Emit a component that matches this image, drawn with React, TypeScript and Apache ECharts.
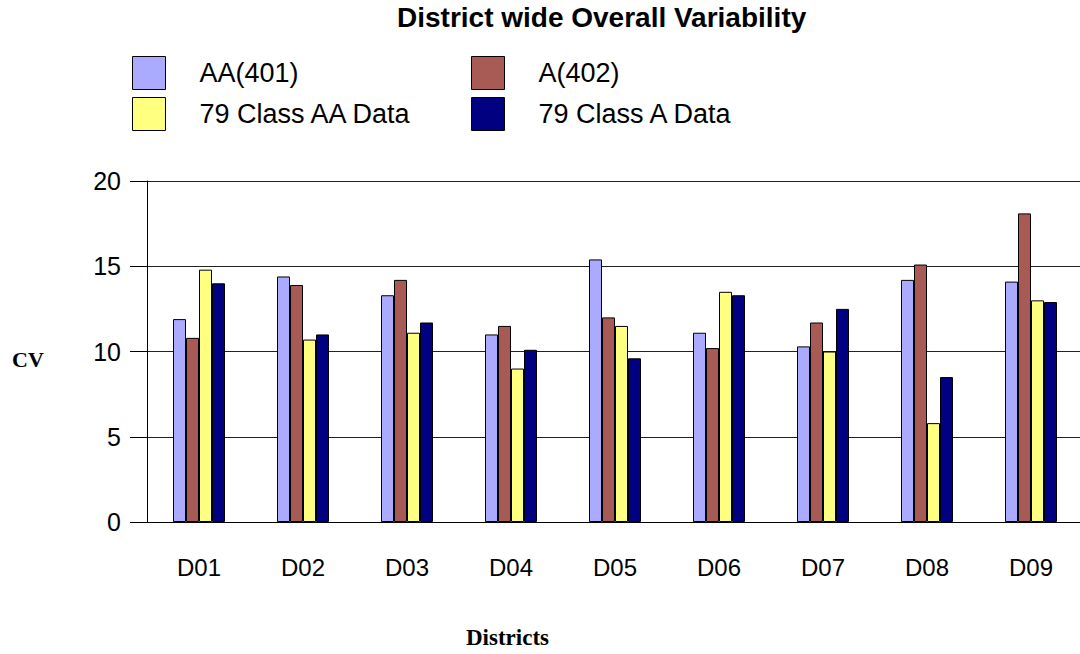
import React, { useEffect, useRef } from "react";
import * as echarts from "echarts";

const categories = ["D01", "D02", "D03", "D04", "D05", "D06", "D07", "D08", "D09"];
const aa401 = [11.9, 14.4, 13.3, 11.0, 15.4, 11.1, 10.3, 14.2, 14.1];
const a402 = [10.8, 13.9, 14.2, 11.5, 12.0, 10.2, 11.7, 15.1, 18.1];
const class79AA = [14.8, 10.7, 11.1, 9.0, 11.5, 13.5, 10.0, 5.8, 13.0];
const class79A = [14.0, 11.0, 11.7, 10.1, 9.6, 13.3, 12.5, 8.5, 12.9];
const seriesNames = ["AA(401)", "A(402)", "79 Class AA Data", "79 Class A Data"];
const seriesColors = ["#AAAAFF", "#A85A55", "#FFFF80", "#000080"];
const yMin = 0;
const yMax = 20;
const yStep = 5;

export default function App() {
  const ref = useRef<HTMLDivElement>(null);
  useEffect(() => {
    if (!ref.current) return;
    const chart = echarts.init(ref.current, null, { renderer: "svg" });
    const values = [aa401, a402, class79AA, class79A];
    const legendPos = [
      { left: 132, top: 56 },
      { left: 471, top: 56 },
      { left: 132, top: 97 },
      { left: 471, top: 97 },
    ];
    chart.setOption({
      animation: false,
      backgroundColor: "#fff",
      title: {
        text: "District wide Overall Variability",
        left: 397,
        top: 3,
        padding: 0,
        textStyle: { fontFamily: "Liberation Sans, Arial", fontWeight: "bold", fontSize: 28, color: "#000" },
      },
      legend: seriesNames.map((n, i) => ({
        data: [n],
        left: legendPos[i].left,
        top: legendPos[i].top,
        icon: "rect",
        itemWidth: 33,
        itemHeight: 33,
        padding: 0,
        itemStyle: { borderColor: "#000", borderWidth: 1 },
        textStyle: { fontFamily: "Liberation Sans, Arial", fontSize: 27, color: "#000", padding: [0, 0, 0, 29] },
        selectedMode: false,
      })),
      grid: { left: 147, top: 181, width: 936, height: 341, containLabel: false, outerBoundsMode: "none" },
      xAxis: {
        type: "category",
        data: categories,
        axisLine: { lineStyle: { color: "#000", width: 1 } },
        axisTick: { alignWithLabel: true, length: 7, lineStyle: { color: "#000" } },
        axisLabel: { fontFamily: "Liberation Sans, Arial", fontSize: 24, color: "#000", margin: 33 },
      },
      yAxis: {
        type: "value",
        min: yMin,
        max: yMax,
        interval: yStep,
        axisLine: { show: true, lineStyle: { color: "#000", width: 1 } },
        axisTick: { show: true, length: 17, lineStyle: { color: "#000" } },
        axisLabel: { fontFamily: "Liberation Sans, Arial", fontSize: 25, color: "#000", margin: 26 },
        splitLine: { show: true, lineStyle: { color: "#222", width: 1 } },
      },
      graphic: [
        {
          type: "text",
          left: 12,
          top: 348,
          style: { text: "CV", font: "bold 22px 'Liberation Serif', 'Times New Roman', serif", fill: "#000" },
        },
        {
          type: "text",
          left: 466,
          top: 626,
          style: { text: "Districts", font: "bold 23px 'Liberation Serif', 'Times New Roman', serif", fill: "#000" },
        },
      ],
      series: seriesNames.map((n, i) => ({
        name: n,
        type: "bar",
        data: values[i],
        barWidth: 13,
        barGap: "0%",
        itemStyle: { color: seriesColors[i], borderColor: "#000", borderWidth: 1 },
      })),
    });
    return () => chart.dispose();
  }, []);
  return (
    <div
      ref={ref}
      style={{ position: "absolute", left: 0, top: 0, width: 1080, height: 654 }}
    />
  );
}
